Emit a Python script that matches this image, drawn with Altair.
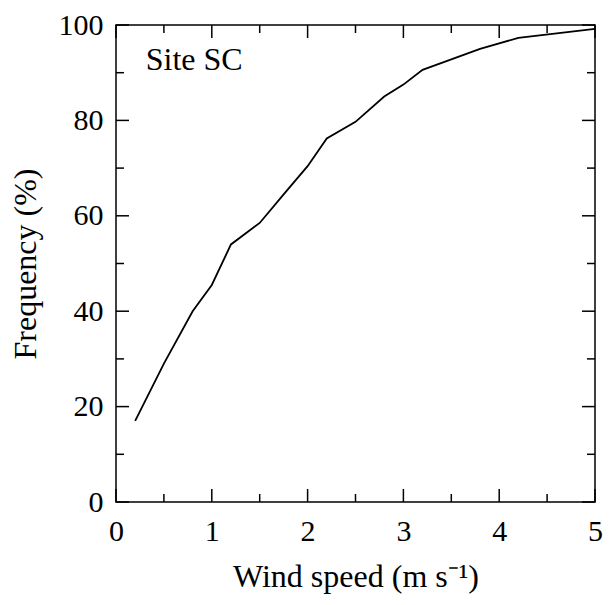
import altair as alt
import pandas as pd

# data
speed = [0.2, 0.5, 0.8, 1.0, 1.2, 1.5, 1.75, 2.0, 2.2, 2.5, 2.8, 3.0, 3.2, 3.8, 4.2, 5.0]
freq = [17.0, 29.0, 40.0, 45.5, 54.0, 58.5, 64.5, 70.4, 76.2, 79.7, 85.0, 87.5, 90.6, 95.0, 97.3, 99.2]

x_major = [0, 1, 2, 3, 4, 5]
x_minor = [0.5, 1.5, 2.5, 3.5, 4.5]
y_major = [0, 20, 40, 60, 80, 100]
y_minor = [10, 30, 50, 70, 90]

label_text = ["Site SC"]
label_x = [0.31]
label_y = [92.6]

W, H = 479, 477
FONT = "Liberation Serif"
FS = 30
TFS = 32
MAJ, MIN = 13, 8

xs = alt.Scale(domain=[0, 5], nice=False, zero=False)
ys = alt.Scale(domain=[0, 100], nice=False, zero=False)

x_axis = alt.Axis(values=x_major, format="d", ticks=False, domain=False, grid=False,
                  labelFont=FONT, labelFontSize=FS, labelColor="black",
                  labelPadding=14, labelFlush=False, labelOverlap=False,
                  titleFont=FONT, titleFontSize=TFS, titleFontWeight="normal",
                  titleColor="black", titlePadding=15)
y_axis = alt.Axis(values=y_major, format="d", ticks=False, domain=False, grid=False,
                  labelFont=FONT, labelFontSize=FS, labelColor="black",
                  labelPadding=13, labelFlush=False, labelOverlap=False,
                  titleFont=FONT, titleFontSize=TFS, titleFontWeight="normal",
                  titleColor="black", titlePadding=16)
X_TITLE = "Wind speed (m s⁻¹)"
Y_TITLE = "Frequency (%)"


def X(f):
    return alt.X(f"{f}:Q", scale=xs, axis=x_axis, title=X_TITLE)


def Y(f):
    return alt.Y(f"{f}:Q", scale=ys, axis=y_axis, title=Y_TITLE)


df = pd.DataFrame({"speed": speed, "freq": freq})

line = alt.Chart(df).mark_line(color="black", strokeWidth=1.8).encode(x=X("speed"), y=Y("freq"))

lab = alt.Chart(pd.DataFrame({"t": label_text, "x": label_x, "y": label_y})).mark_text(
    font=FONT, fontSize=TFS, align="left", baseline="middle", color="black"
).encode(x=X("x"), y=Y("y"), text="t:N")


def xticks(vals, y0, y1):
    return alt.Chart(pd.DataFrame({"v": vals})).mark_rule(color="black", strokeWidth=1.5).encode(
        x=X("v"), y=alt.value(y0), y2=alt.value(y1))


def yticks(vals, x0, x1):
    return alt.Chart(pd.DataFrame({"v": vals})).mark_rule(color="black", strokeWidth=1.5).encode(
        y=Y("v"), x=alt.value(x0), x2=alt.value(x1))


ticks = [
    xticks(x_major, H, H - MAJ), xticks(x_minor, H, H - MIN),
    xticks(x_major, 0, MAJ), xticks(x_minor, 0, MIN),
    yticks(y_major, 0, MAJ), yticks(y_minor, 0, MIN),
    yticks(y_major, W, W - MAJ), yticks(y_minor, W, W - MIN),
]

chart = alt.layer(line, lab, *ticks).properties(
    width=W, height=H,
    autosize=alt.AutoSizeParams(type="none"),
    padding={"left": 108, "top": 17, "right": 8, "bottom": 95},
    background="white",
).configure_view(stroke="black", strokeWidth=1.5).configure_axis(
    titleColor="black", labelColor="black"
)

chart.save("out.html", embed_options={"renderer": "svg", "actions": False})
